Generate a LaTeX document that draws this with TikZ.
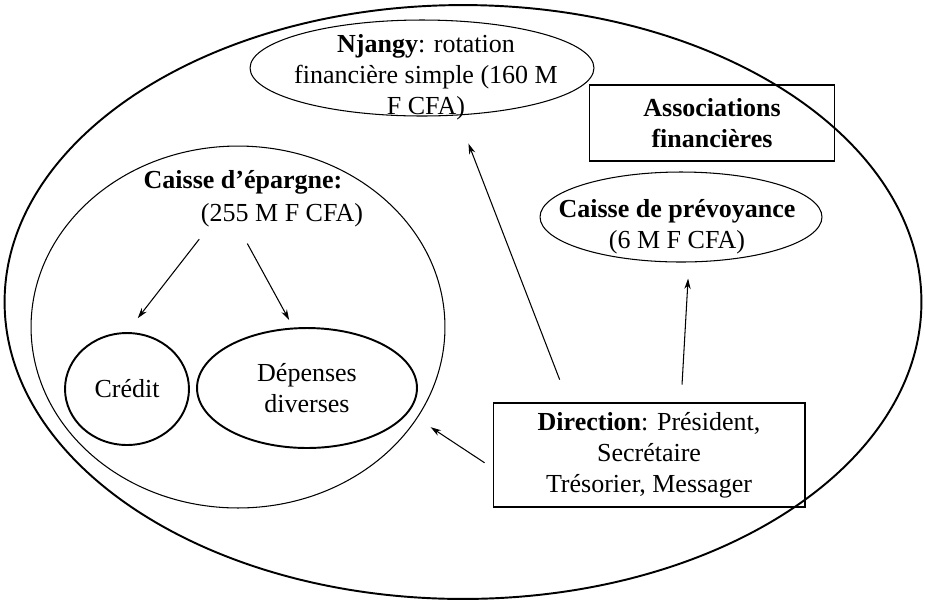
\documentclass[tikz,border=0pt]{standalone}
\usepackage{fontspec}
\setmainfont{Liberation Serif}
\usetikzlibrary{arrows.meta, shapes.geometric}

\begin{document}
\begin{tikzpicture}[
  x=0.02cm, y=-0.02cm, >={Stealth[length=6pt, width=3.6pt]}, line width=0.6pt,
  font=\fontsize{14.8}{17.6}\selectfont,
  bulle/.style={ellipse, draw, inner sep=0pt},
  epaisse/.style={bulle, line width=1.1pt},
  cadre/.style={rectangle, draw, align=center, inner sep=0pt},
  texte/.style={align=center, inner sep=0pt}
]
  \useasboundingbox (0,0) rectangle (925,603);
  % Grande ellipse : l'ensemble de l'association.
  \node[epaisse, minimum width=18.34cm, minimum height=11.88cm] (assoc) at (463,302) {};

  \node[bulle, minimum width=8.28cm, minimum height=7.24cm] (epargne) at (238,327) {};
  \node[texte, font=\fontsize{14.8}{17.6}\selectfont\bfseries] (epTitre) at (243,182) {Caisse d'épargne:};
  \node[texte] (epSomme) at (282,215) {(255 M F CFA)};
  \node[epaisse, minimum width=2.48cm, minimum height=2.24cm] (credit) at (127,389) {Crédit};
  \node[epaisse, minimum width=4.4cm, minimum height=2.4cm, align=center] (depenses) at (307,388) {Dépenses\\diverses};

  \node[bulle, minimum width=6.88cm, minimum height=1.92cm] (njangy) at (422,68) {};
  \node[texte] (njTexte) at (426,77) {\textbf{Njangy}: rotation\\financière simple (160 M\\F CFA)};

  \node[cadre, minimum width=4.9cm, minimum height=1.52cm, font=\fontsize{14.8}{17.6}\selectfont\bfseries] (assocTitre) at (712,123) {Associations\\financières};

  \node[bulle, minimum width=5.64cm, minimum height=1.8cm] (prevoyance) at (681,217) {};
  \node[texte] (prevTexte) at (677,227) {\textbf{Caisse de prévoyance}\\(6 M F CFA)};

  \node[cadre, minimum width=6.24cm, minimum height=2.08cm] (direction) at (649,455) {\textbf{Direction}: Président,\\Secrétaire\\Trésorier, Messager};

  \draw[->, shorten <=0.3cm, shorten >=0.35cm] ([xshift=0.16cm]epSomme.south west) -- (credit.north);
  \draw[->, shorten <=0.37cm, shorten >=0.16cm] ([xshift=0.76cm]epSomme.south west) -- ([xshift=-0.28cm]depenses.north);
  \draw[->, shorten <=0.49cm, shorten >=0.58cm] ([xshift=1.52cm]direction.north west) -- ([xshift=0.72cm]njangy.south);
  \draw[->, shorten <=0.36cm, shorten >=0.32cm] ([xshift=0.64cm]direction.north) -- ([xshift=0.16cm]prevoyance.south);
  \draw[->, shorten <=0.19cm, shorten >=0.32cm] ([yshift=-0.26cm]direction.west) -- (epargne.-27);
\end{tikzpicture}
\end{document}
